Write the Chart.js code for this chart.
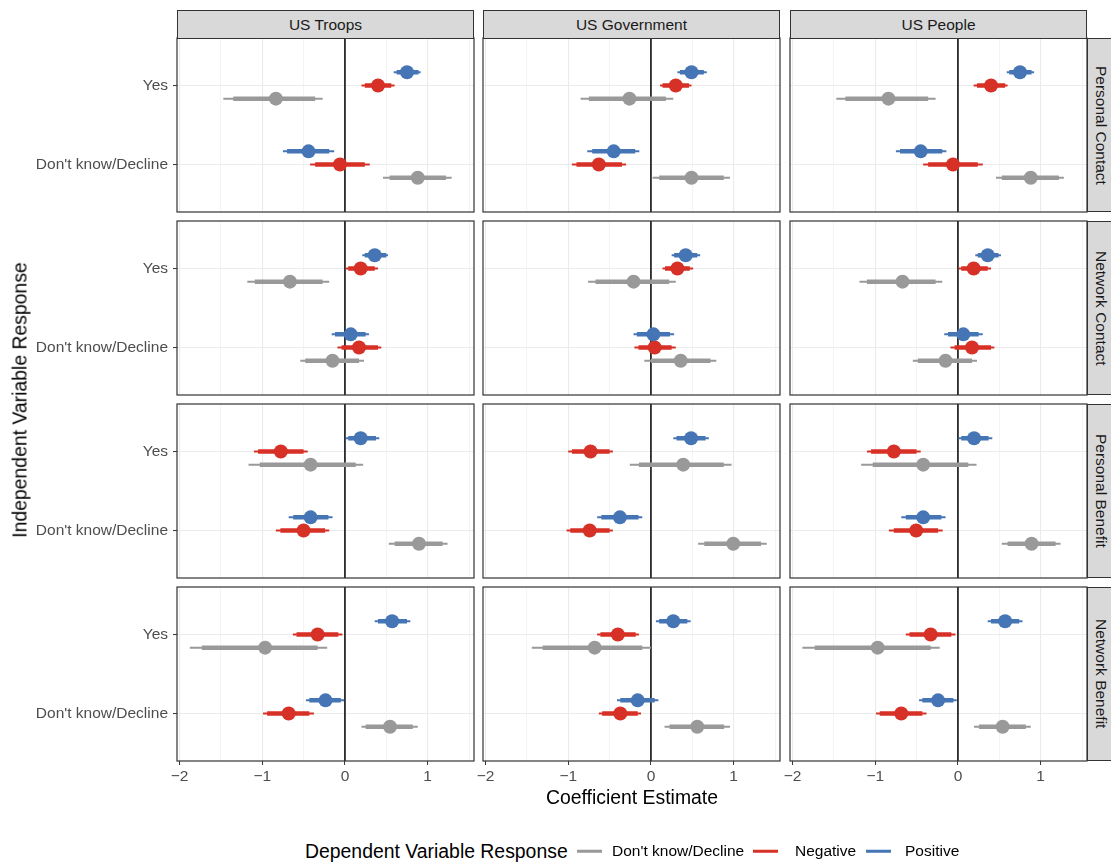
<!DOCTYPE html>
<html>
<head>
<meta charset="utf-8">
<script src="https://cdn.jsdelivr.net/npm/chart.js@4.4.0/dist/chart.umd.min.js"></script>
<style>
  body { margin: 0; background: #fff; }
  #page { position: relative; width: 1111px; height: 865px; overflow: hidden; background: #fff;
          font-family: "Liberation Sans", Arial, sans-serif; }
  canvas { position: absolute; }
  .strip { position: absolute; box-sizing: border-box; background: #d9d9d9; border: 1px solid #333;
           color: #1a1a1a; font-size: 15.5px; display: flex; align-items: center; justify-content: center; }
  .strip.right { writing-mode: vertical-rl; }
  .lbl { position: absolute; white-space: nowrap; transform: translateY(-50%); }
  .key { position: absolute; height: 2.5px; transform: translateY(-50%); }
</style>
</head>
<body>
<div id="page"></div>
<script>
// facets
var colNames = ['US Troops', 'US Government', 'US People'];
var rowNames = ['Personal Contact', 'Network Contact', 'Personal Benefit', 'Network Benefit'];
// y categories (bottom to top)
var categories = ["Don't know/Decline", 'Yes'];
var xTicks = [-2, -1.5, -1, -0.5, 0, 0.5, 1, 1.5];
var yTicks = [1, 2];

// each panel (row by row, left to right): [Yes, Don't know/Decline]
var positiveEst  = [[0.75, -0.44], [0.49, -0.45], [0.75, -0.45], [0.36, 0.07], [0.42, 0.03], [0.36, 0.065],
                    [0.19, -0.415], [0.485, -0.375], [0.195, -0.42], [0.57, -0.235], [0.27, -0.16], [0.57, -0.24]];
var positiveLo95 = [[0.59, -0.75], [0.32, -0.77], [0.59, -0.75], [0.21, -0.16], [0.25, -0.21], [0.21, -0.165],
                    [0.01, -0.68], [0.27, -0.65], [0.01, -0.685], [0.36, -0.47], [0.06, -0.41], [0.36, -0.47]];
var positiveHi95 = [[0.915, -0.13], [0.675, -0.14], [0.92, -0.14], [0.52, 0.29], [0.595, 0.28], [0.52, 0.30],
                    [0.415, -0.15], [0.70, -0.105], [0.415, -0.15], [0.79, -0.01], [0.48, 0.09], [0.78, -0.015]];
var positiveLo90 = [[0.625, -0.70], [0.35, -0.71], [0.62, -0.70], [0.24, -0.12], [0.28, -0.17], [0.24, -0.12],
                    [0.04, -0.625], [0.31, -0.60], [0.04, -0.63], [0.40, -0.43], [0.10, -0.37], [0.40, -0.43]];
var positiveHi90 = [[0.89, -0.19], [0.64, -0.19], [0.89, -0.19], [0.50, 0.25], [0.56, 0.23], [0.49, 0.25],
                    [0.375, -0.20], [0.66, -0.15], [0.37, -0.20], [0.75, -0.05], [0.44, 0.045], [0.74, -0.055]];

var negativeEst  = [[0.40, -0.06], [0.30, -0.63], [0.40, -0.06], [0.19, 0.17], [0.32, 0.045], [0.19, 0.17],
                    [-0.775, -0.50], [-0.73, -0.74], [-0.775, -0.505], [-0.33, -0.68], [-0.40, -0.37], [-0.33, -0.685]];
var negativeLo95 = [[0.20, -0.42], [0.11, -0.955], [0.19, -0.42], [0.01, -0.09], [0.14, -0.20], [0.01, -0.09],
                    [-1.10, -0.835], [-1.00, -1.02], [-1.10, -0.835], [-0.63, -0.99], [-0.65, -0.63], [-0.63, -0.99]];
var negativeHi95 = [[0.60, 0.30], [0.49, -0.30], [0.60, 0.30], [0.40, 0.44], [0.51, 0.30], [0.40, 0.44],
                    [-0.45, -0.19], [-0.46, -0.46], [-0.45, -0.185], [-0.03, -0.375], [-0.145, -0.12], [-0.03, -0.38]];
var negativeLo90 = [[0.24, -0.36], [0.14, -0.90], [0.23, -0.36], [0.04, -0.04], [0.17, -0.15], [0.04, -0.04],
                    [-1.05, -0.78], [-0.955, -0.975], [-1.05, -0.775], [-0.585, -0.94], [-0.61, -0.59], [-0.585, -0.945]];
var negativeHi90 = [[0.56, 0.24], [0.46, -0.35], [0.57, 0.24], [0.36, 0.40], [0.47, 0.25], [0.36, 0.40],
                    [-0.50, -0.24], [-0.50, -0.50], [-0.50, -0.24], [-0.08, -0.43], [-0.185, -0.16], [-0.08, -0.43]];

var dkEst  = [[-0.835, 0.88], [-0.26, 0.49], [-0.84, 0.88], [-0.665, -0.15], [-0.21, 0.36], [-0.67, -0.15],
              [-0.415, 0.895], [0.39, 0.995], [-0.42, 0.89], [-0.965, 0.545], [-0.68, 0.56], [-0.97, 0.54]];
var dkLo95 = [[-1.47, 0.46], [-0.85, 0.02], [-1.47, 0.46], [-1.18, -0.54], [-0.76, -0.08], [-1.19, -0.545],
              [-1.165, 0.53], [-0.255, 0.57], [-1.17, 0.53], [-1.875, 0.20], [-1.44, 0.165], [-1.88, 0.195]];
var dkHi95 = [[-0.27, 1.29], [0.27, 0.955], [-0.27, 1.28], [-0.19, 0.23], [0.30, 0.79], [-0.19, 0.23],
              [0.22, 1.24], [0.975, 1.40], [0.225, 1.24], [-0.215, 0.88], [0.00, 0.955], [-0.22, 0.88]];
var dkLo90 = [[-1.35, 0.54], [-0.75, 0.10], [-1.36, 0.53], [-1.09, -0.48], [-0.67, 0.00], [-1.10, -0.485],
              [-1.03, 0.60], [-0.145, 0.645], [-1.03, 0.60], [-1.73, 0.25], [-1.31, 0.225], [-1.73, 0.255]];
var dkHi90 = [[-0.36, 1.22], [0.18, 0.88], [-0.36, 1.22], [-0.27, 0.17], [0.22, 0.72], [-0.27, 0.17],
              [0.13, 1.18], [0.88, 1.33], [0.125, 1.18], [-0.33, 0.82], [-0.105, 0.885], [-0.33, 0.82]];

var series = [
  { name: 'Positive', color: '#4575B4', dodge: 1 / 6,
    est: positiveEst, lo95: positiveLo95, hi95: positiveHi95, lo90: positiveLo90, hi90: positiveHi90 },
  { name: 'Negative', color: '#D73027', dodge: 0,
    est: negativeEst, lo95: negativeLo95, hi95: negativeHi95, lo90: negativeLo90, hi90: negativeHi90 },
  { name: "Don't know/Decline", color: '#999999', dodge: -1 / 6,
    est: dkEst, lo95: dkLo95, hi95: dkHi95, lo90: dkLo90, hi90: dkHi90 }
];

Chart.defaults.font.family = '"Liberation Sans", Arial, sans-serif';

var page = document.getElementById('page');
var colLeft = [177, 483, 790];
var rowTop = [38, 221, 404, 587];
var panelW = 297, panelH = 174;
var tickFont = 15.5, titleFont = 19.4;

// zero line under the marks, panel frame on top
var panelBox = {
  id: 'panelBox',
  beforeDatasetsDraw: function (chart) {
    var a = chart.chartArea, c = chart.ctx;
    var x0 = chart.scales.x.getPixelForValue(0);
    c.save();
    c.strokeStyle = '#000';
    c.lineWidth = 1.5;
    c.beginPath();
    c.moveTo(x0, a.top);
    c.lineTo(x0, a.bottom);
    c.stroke();
    c.restore();
  },
  afterDatasetsDraw: function (chart) {
    var a = chart.chartArea, c = chart.ctx;
    c.save();
    c.strokeStyle = '#333';
    c.lineWidth = 1.2;
    c.strokeRect(a.left, a.top, a.right - a.left, a.bottom - a.top);
    c.restore();
  }
};

function segments(lo, hi, off) {
  var pts = [];
  for (var k = 0; k < 2; k++) {
    var y = (k === 0 ? 2 : 1) + off;
    pts.push({ x: lo[k], y: y }, { x: hi[k], y: y }, { x: null, y: null });
  }
  return pts;
}

function panelDatasets(p) {
  var sets = [];
  series.forEach(function (s) {
    sets.push({
      data: [{ x: s.est[p][0], y: 2 + s.dodge }, { x: s.est[p][1], y: 1 + s.dodge }],
      backgroundColor: s.color, pointRadius: 7, pointBorderWidth: 0, order: 0
    });
    sets.push({
      data: segments(s.lo90[p], s.hi90[p], s.dodge), showLine: true, spanGaps: false,
      borderColor: s.color, borderWidth: 4.5, pointRadius: 0, order: 1
    });
    sets.push({
      data: segments(s.lo95[p], s.hi95[p], s.dodge), showLine: true, spanGaps: false,
      borderColor: s.color, borderWidth: 2, pointRadius: 0, order: 2
    });
  });
  return sets;
}

function isInt(v) { return Math.abs(v - Math.round(v)) < 1e-9; }

rowNames.forEach(function (rowName, r) {
  colNames.forEach(function (colName, c) {
    var p = r * 3 + c;
    var gutL = c === 0 ? 177 : 10;
    var bottomRow = r === rowNames.length - 1;
    var gutB = bottomRow ? 32 : 0;
    var padB = bottomRow ? 0 : 2;

    var cv = document.createElement('canvas');
    cv.width = gutL + panelW + 2;
    cv.height = 2 + panelH + gutB + padB;
    cv.style.left = (colLeft[c] - gutL) + 'px';
    cv.style.top = (rowTop[r] - 2) + 'px';
    page.appendChild(cv);

    new Chart(cv.getContext('2d'), {
      type: 'scatter',
      data: { datasets: panelDatasets(p) },
      options: {
        responsive: false,
        animation: false,
        events: [],
        layout: { autoPadding: false, padding: { top: 2, right: 2, bottom: padB, left: 0 } },
        plugins: { legend: { display: false }, tooltip: { enabled: false } },
        scales: {
          x: {
            type: 'linear', min: -2.03, max: 1.56,
            afterBuildTicks: function (s) { s.ticks = xTicks.map(function (v) { return { value: v }; }); },
            afterFit: function (s) { s.height = gutB; s.paddingLeft = 0; s.paddingRight = 0; },
            border: { display: false },
            grid: {
              color: '#ebebeb',
              lineWidth: function (ctx) { return isInt(ctx.tick.value) ? 1.1 : 0.55; },
              drawTicks: bottomRow, tickLength: 4, tickWidth: 1,
              tickColor: function (ctx) { return isInt(ctx.tick.value) ? '#333' : 'rgba(0,0,0,0)'; }
            },
            ticks: {
              display: bottomRow, color: '#4d4d4d', font: { size: tickFont }, padding: 2,
              maxRotation: 0, autoSkip: false,
              callback: function (v) {
                if (!isInt(v)) return '';
                return v < 0 ? '\u2212' + Math.abs(v) : String(v);
              }
            }
          },
          y: {
            type: 'linear', min: 0.4, max: 2.6,
            afterBuildTicks: function (s) { s.ticks = yTicks.map(function (v) { return { value: v }; }); },
            afterFit: function (s) { s.width = gutL; s.paddingTop = 0; s.paddingBottom = 0; },
            border: { display: false },
            grid: { color: '#ebebeb', lineWidth: 1.1, drawTicks: c === 0, tickLength: 4, tickWidth: 1, tickColor: '#333' },
            ticks: {
              display: c === 0, color: '#4d4d4d', font: { size: tickFont }, padding: 5,
              callback: function (v) { return categories[Math.round(v) - 1]; }
            }
          }
        }
      },
      plugins: [panelBox]
    });

    if (r === 0) {
      var st = document.createElement('div');
      st.className = 'strip';
      st.style.left = colLeft[c] + 'px';
      st.style.top = '10px';
      st.style.width = panelW + 'px';
      st.style.height = '29px';
      st.textContent = colName;
      page.appendChild(st);
    }
  });

  var rs = document.createElement('div');
  rs.className = 'strip right';
  rs.style.left = (colLeft[2] + panelW) + 'px';
  rs.style.top = rowTop[r] + 'px';
  rs.style.width = '27px';
  rs.style.height = panelH + 'px';
  rs.textContent = rowName;
  page.appendChild(rs);
});

function addText(txt, left, top, size, color) {
  var d = document.createElement('div');
  d.className = 'lbl';
  d.style.left = left + 'px';
  d.style.top = top + 'px';
  d.style.fontSize = size + 'px';
  d.style.color = color || '#000';
  d.textContent = txt;
  page.appendChild(d);
  return d;
}

// axis titles
var xt = addText('Coefficient Estimate', 632, 797, titleFont);
xt.style.transform = 'translate(-50%, -50%)';
var yt = addText('Independent Variable Response', 20, 400, titleFont);
yt.style.transform = 'translate(-50%, -50%) rotate(-90deg)';

// legend
addText('Dependent Variable Response', 305, 851, titleFont);
var keyX = [577, 753, 866];
var labX = [612, 795, 905];
[series[2], series[1], series[0]].forEach(function (s, i) {
  var k = document.createElement('div');
  k.className = 'key';
  k.style.left = keyX[i] + 'px';
  k.style.top = '851px';
  k.style.width = '25px';
  k.style.background = s.color;
  page.appendChild(k);
  addText(s.name, labX[i], 851, tickFont, '#000');
});
</script>
</body>
</html>
